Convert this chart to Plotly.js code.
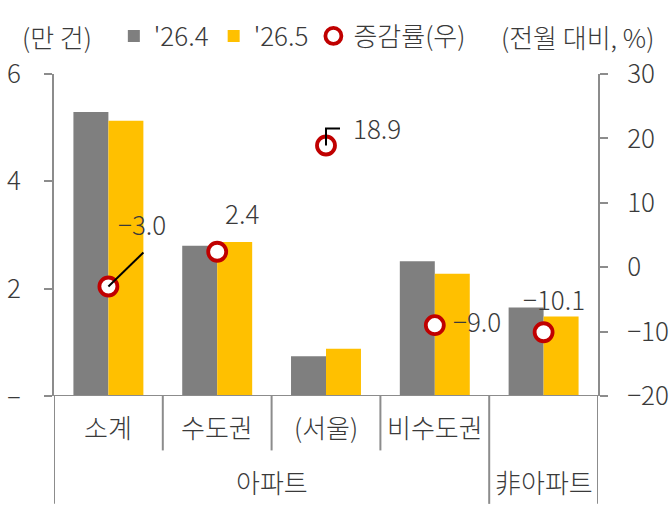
<!DOCTYPE html>
<html>
<head>
<meta charset="utf-8">
<script src="https://cdn.plot.ly/plotly-3.0.1.min.js"></script>
<style>html,body{margin:0;padding:0;background:#fff}#chart{width:671px;height:513px}</style>
</head>
<body>
<div id="chart"></div>
<script>
// ---- data ----
const categories = ['소계', '수도권', '(서울)', '비수도권', '非아파트'];
const groupLabels = ['아파트', '非아파트'];
const apr26 = [5.29, 2.80, 0.74, 2.51, 1.65];   // '26.4 (만 건)
const may26 = [5.13, 2.87, 0.88, 2.28, 1.48];   // '26.5 (만 건)
const changeRate = [-3.0, 2.4, 18.9, -9.0, -10.1]; // 증감률 (전월 대비, %)
const leftTicks = [0, 2, 4, 6];
const leftTickText = ['–', '2', '4', '6'];
const rightTicks = [-20, -10, 0, 10, 20, 30];

// ---- styling ----
const FONT = '"Noto Sans CJK KR", "Noto Sans", sans-serif';
const TXT = '#3a3a3a';
const AX = '#8c8c8c';
const FS = 26;
const W = 300;
const F = {family: FONT, size: FS, color: TXT, weight: W};
const xIdx = categories.map((_, i) => i);
const fmt = v => v.toFixed(1).replace('-', '\u2212');

const traces = [
  {type: 'bar', name: "'26.4", x: xIdx, y: apr26, marker: {color: '#7f7f7f'}, hoverinfo: 'skip'},
  {type: 'bar', name: "'26.5", x: xIdx, y: may26, marker: {color: '#ffc000'}, hoverinfo: 'skip'},
  {type: 'scatter', mode: 'markers', name: '증감률(우)', x: xIdx, y: changeRate, yaxis: 'y2',
   marker: {size: 18, color: '#ffffff', line: {color: '#c00000', width: 3.8}}, hoverinfo: 'skip'}
];

// label offsets (px) relative to each marker
const labelOffsets = [[34, 63], [25, 39], [51, 18], [42, 5], [10, 34]];
const annotations = changeRate.map((v, i) => ({
  xref: 'x', yref: 'y2', x: i, y: v, text: fmt(v), showarrow: false,
  xshift: labelOffsets[i][0], yshift: labelOffsets[i][1], font: F
}));

// category labels (row 1)
for (let i = 0; i < 4; i++) {
  annotations.push({xref: 'x', yref: 'paper', x: i, y: -0.094, yanchor: 'middle', text: categories[i],
    showarrow: false, font: F});
}
// group labels (row 2)
annotations.push({xref: 'x', yref: 'paper', x: 1.5, y: -0.266, yanchor: 'middle', text: groupLabels[0],
  showarrow: false, font: F});
annotations.push({xref: 'x', yref: 'paper', x: 4, y: -0.266, yanchor: 'middle', text: groupLabels[1],
  showarrow: false, font: F});
// unit labels
annotations.push({xref: 'paper', yref: 'paper', x: -0.062, y: 1.118, xanchor: 'left', yanchor: 'middle',
  text: '(만 건)', showarrow: false, font: F});
annotations.push({xref: 'paper', yref: 'paper', x: 1.107, y: 1.118, xanchor: 'right', yanchor: 'middle',
  text: '(전월 대비, %)', showarrow: false, font: F});

const shapes = [];
// extended baseline
shapes.push({type: 'line', xref: 'paper', yref: 'y', x0: -0.016, x1: 1.014, y0: 0, y1: 0,
  line: {color: AX, width: 2}});
// category separators
const shortSep = [0.5, 1.5, 2.5];
const longSep = [-0.5, 3.5, 4.5];
shortSep.forEach(s => shapes.push({type: 'line', xref: 'x', yref: 'paper', x0: s, x1: s, y0: 0, y1: -0.169,
  line: {color: AX, width: 2}}));
longSep.forEach(s => shapes.push({type: 'line', xref: 'x', yref: 'paper', x0: s, x1: s, y0: 0, y1: -0.335,
  line: {color: AX, width: 2}}));
// leader lines
shapes.push({type: 'line', xref: 'x', yref: 'y2', xsizemode: 'pixel', ysizemode: 'pixel',
  xanchor: 0, yanchor: changeRate[0], x0: 0, x1: 35, y0: 0, y1: 34, layer: 'above',
  line: {color: '#000', width: 2}});
shapes.push({type: 'path', xref: 'x', yref: 'y2', xsizemode: 'pixel', ysizemode: 'pixel',
  xanchor: 2, yanchor: changeRate[2], path: 'M0,0 L0,17 L14,17', layer: 'above',
  line: {color: '#000', width: 2}});

const layout = {
  width: 671, height: 513,
  margin: {l: 54, r: 73, t: 65, b: 117, pad: 0},
  paper_bgcolor: '#fff', plot_bgcolor: '#fff',
  font: F,
  barmode: 'group', bargap: 0.357, bargroupgap: 0,
  showlegend: true,
  legend: {orientation: 'h', x: 0.11, y: 1.118, xanchor: 'left', yanchor: 'middle',
    font: F, bgcolor: 'rgba(0,0,0,0)', itemwidth: 30, tracegroupgap: 0, traceorder: 'normal'},
  xaxis: {range: [-0.5, 4.5], showticklabels: false, ticks: '', showgrid: false, zeroline: false,
    showline: false, fixedrange: true},
  yaxis: {range: [0, 6], tickvals: leftTicks, ticktext: leftTickText, ticks: 'outside', ticklen: 8,
    tickwidth: 2, tickcolor: AX, showline: true, linecolor: AX, linewidth: 2, showgrid: false,
    zeroline: false, ticklabelstandoff: 18, tickfont: F},
  yaxis2: {range: [-20, 30], tickvals: rightTicks, overlaying: 'y', side: 'right', ticks: 'outside',
    ticklen: 8, tickwidth: 2, tickcolor: AX, showline: true, linecolor: AX, linewidth: 2,
    showgrid: false, zeroline: false, ticklabelstandoff: 14, tickfont: F},
  annotations: annotations,
  shapes: shapes
};

Plotly.newPlot('chart', traces, layout, {displayModeBar: false, staticPlot: true});
</script>
</body>
</html>
